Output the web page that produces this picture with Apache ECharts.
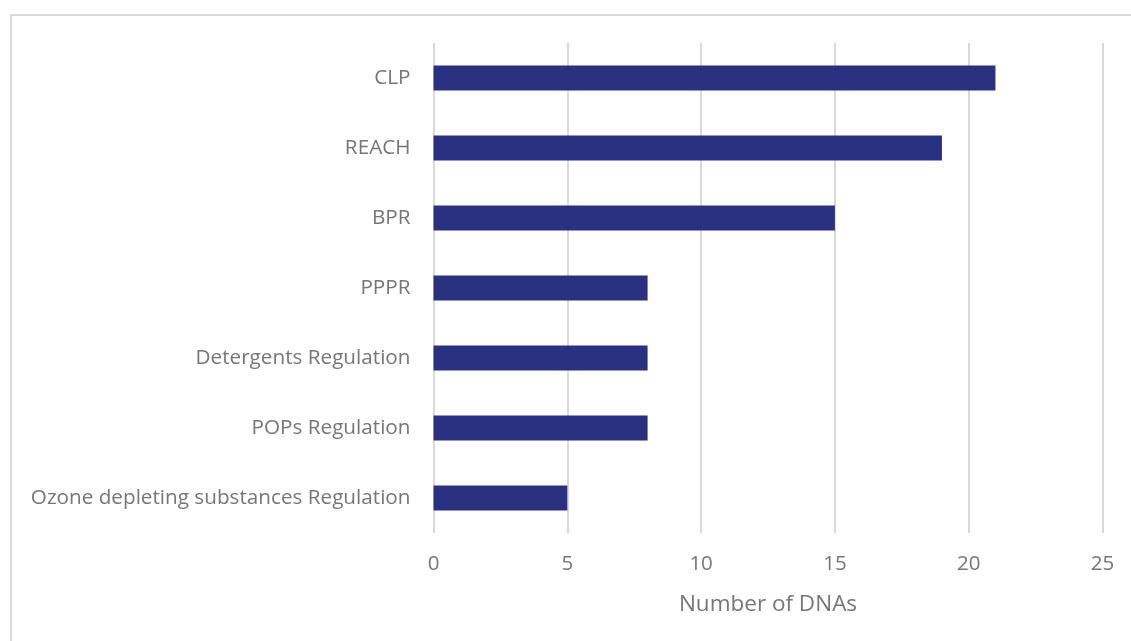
<!DOCTYPE html>
<html>
<head>
<meta charset="utf-8">
<script src="https://cdn.jsdelivr.net/npm/echarts@6/dist/echarts.min.js"></script>
<style>
  html, body { margin: 0; padding: 0; background: #fff; }
  #frame { position: absolute; left: 10px; top: 14px; width: 1140px; height: 660px; border: 2px solid #d9d9d9; box-sizing: border-box; }
  #echart { position: absolute; left: 0; top: 0; width: 1131px; height: 641px; }
</style>
</head>
<body>
<div id="frame"></div>
<div id="echart"></div>
<script>
// categories listed bottom -> top (ECharts category y axis starts at the bottom)
const categories = [
  'Ozone depleting substances Regulation',
  'POPs Regulation',
  'Detergents Regulation',
  'PPPR',
  'BPR',
  'REACH',
  'CLP'
]
const dnaCounts = [5, 8, 8, 8, 15, 19, 21]
const xTicks = [0, 5, 10, 15, 20, 25]

const textColor = '#767676'
const font = '"Open Sans", "Liberation Sans", sans-serif'

const myChart = echarts.init(document.getElementById('echart'))
myChart.setOption({
  animation: false,
  grid: {
    left: 433.5,
    right: 28.5,
    top: 43,
    bottom: 108
  },
  xAxis: {
    type: 'value',
    min: xTicks[0],
    max: xTicks[xTicks.length - 1],
    interval: 5,
    name: 'Number of DNAs',
    nameLocation: 'middle',
    nameGap: 60,
    nameTextStyle: { color: textColor, fontSize: 22.5, fontFamily: font },
    axisLine: { show: false },
    axisTick: { show: false },
    axisLabel: { color: textColor, fontSize: 20.5, fontFamily: font, margin: 21 },
    splitLine: { lineStyle: { color: '#d9d9d9', width: 2 } }
  },
  yAxis: {
    type: 'category',
    data: categories,
    axisLine: { show: false },
    axisTick: { show: false },
    axisLabel: { color: textColor, fontSize: 20.7, fontFamily: font, margin: 23 }
  },
  series: [
    {
      name: 'Number of DNAs',
      type: 'bar',
      data: dnaCounts,
      barWidth: 25,
      itemStyle: { color: '#2b3181' }
    }
  ]
})
window.onresize = function() {
  myChart.resize()
}
</script>
</body>
</html>
